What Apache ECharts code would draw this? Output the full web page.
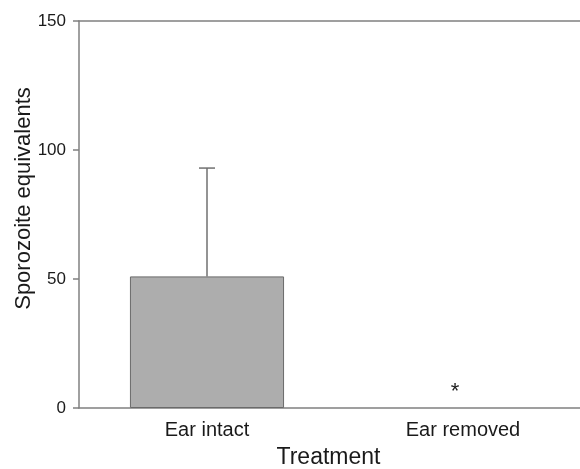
<!DOCTYPE html>
<html>
<head>
<meta charset="utf-8">
<script src="https://cdn.jsdelivr.net/npm/echarts@6/dist/echarts.min.js"></script>
<style>html,body{margin:0;padding:0;background:#fff}#c{width:580px;height:469px}</style>
</head>
<body>
<div id="c"></div>
<script>
var categories = ['Ear intact', 'Ear removed'];
var means = [51, 0];
var errorsUp = [42, 0];
var marks = ['', '*'];
var yTicks = [0, 50, 100, 150];

var chart = echarts.init(document.getElementById('c'), null, {renderer: 'canvas'});
var axisColor = '#808080';
var font = 'Liberation Sans, Arial, sans-serif';

chart.setOption({
  animation: false,
  backgroundColor: '#ffffff',
  grid: {left: 79, top: 21, width: 512, height: 387, show: false, outerBoundsMode: 'none', containLabel: false},
  xAxis: [{
    type: 'category',
    data: categories,
    name: 'Treatment',
    nameLocation: 'middle',
    nameGap: 38,
    nameMoveOverlap: false,
    nameTextStyle: {fontFamily: font, fontSize: 23, color: '#1a1a1a', padding: [0, 13, 0, 0]},
    axisLine: {show: true, lineStyle: {color: axisColor, width: 1.5}},
    axisTick: {show: false},
    axisLabel: {fontFamily: font, fontSize: 20, color: '#1a1a1a', margin: 12},
    splitLine: {show: false}
  }, {
    type: 'category',
    data: categories,
    position: 'top',
    axisLine: {show: true, onZero: false, lineStyle: {color: axisColor, width: 1.5}},
    axisTick: {show: false},
    axisLabel: {show: false},
    splitLine: {show: false}
  }],
  yAxis: {
    type: 'value',
    min: yTicks[0],
    max: yTicks[yTicks.length - 1],
    interval: 50,
    name: 'Sporozoite equivalents',
    nameLocation: 'middle',
    nameGap: 44,
    nameMoveOverlap: false,
    nameTextStyle: {fontFamily: font, fontSize: 22, color: '#1a1a1a', padding: [0, 0, 0, 32]},
    axisLine: {show: true, lineStyle: {color: axisColor, width: 1.5}},
    axisTick: {show: true, inside: false, length: 6, lineStyle: {color: axisColor, width: 1.5}},
    axisLabel: {fontFamily: font, fontSize: 17, color: '#1a1a1a', margin: 13},
    splitLine: {show: false}
  },
  series: [
    {
      type: 'bar',
      data: means.map(function (v) {
        return v > 0 ? v : {value: v, itemStyle: {borderWidth: 0}};
      }),
      barWidth: '60.2%',
      itemStyle: {color: '#adadad', borderColor: '#6a6a6a', borderWidth: 1},
      label: {
        show: true,
        position: 'top',
        distance: 5,
        offset: [-8, 0],
        fontFamily: font,
        fontSize: 22,
        color: '#222',
        formatter: function (p) { return marks[p.dataIndex]; }
      },
      z: 2
    },
    {
      type: 'custom',
      z: 3,
      data: means.map(function (m, i) { return [i, m, m + errorsUp[i]]; }),
      renderItem: function (params, api) {
        var i = api.value(0);
        if (errorsUp[i] <= 0) return null;
        var base = api.coord([i, api.value(1)]);
        var top = api.coord([i, api.value(2)]);
        var cap = 8;
        var style = {stroke: '#707070', lineWidth: 1.5};
        return {
          type: 'group',
          children: [
            {type: 'line', shape: {x1: base[0], y1: base[1], x2: top[0], y2: top[1]}, style: style},
            {type: 'line', shape: {x1: top[0] - cap, y1: top[1], x2: top[0] + cap, y2: top[1]}, style: style}
          ]
        };
      }
    }
  ]
});
</script>
</body>
</html>
